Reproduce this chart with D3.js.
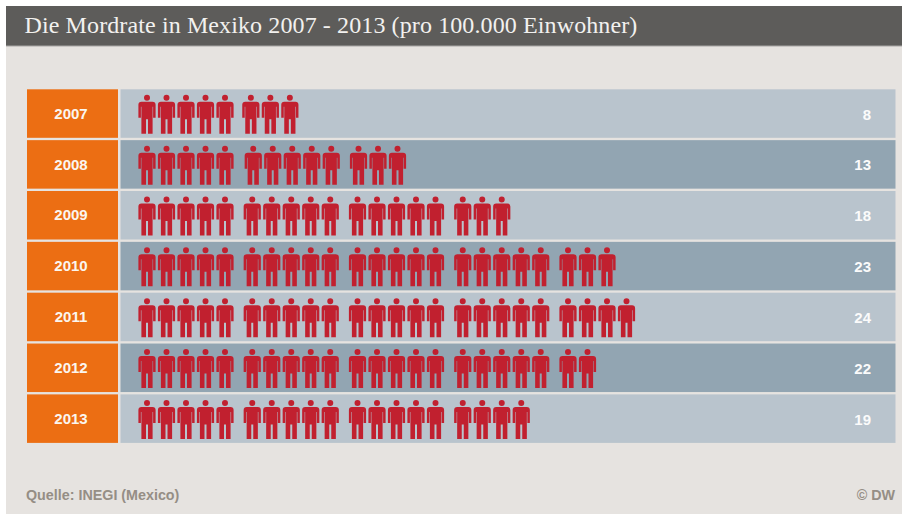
<!DOCTYPE html>
<html><head><meta charset="utf-8">
<script src="https://cdn.jsdelivr.net/npm/d3@7"></script>
<style>html,body{margin:0;padding:0;background:#fff}svg{display:block}</style>
</head><body>
<svg id="chart" width="902" height="514"></svg>
<script>
const titleText = "Die Mordrate in Mexiko 2007 - 2013 (pro 100.000 Einwohner)";
const sourceText = "Quelle: INEGI (Mexico)";
const creditText = "© DW";
const years = [2007, 2008, 2009, 2010, 2011, 2012, 2013];
const rates = [8, 13, 18, 23, 24, 22, 19];

const svg = d3.select("#chart");
const perGroup = 5;

// panel and header
svg.append("rect").attr("x", 6).attr("y", 6).attr("width", 896).attr("height", 508).attr("fill", "#e6e3e0");
svg.append("rect").attr("x", 6).attr("y", 6).attr("width", 896).attr("height", 40).attr("fill", "#5d5c5a");
svg.append("rect").attr("x", 6).attr("y", 45.5).attr("width", 896).attr("height", 1).attr("fill", "#a8a6a3");
svg.append("text").attr("x", 24.5).attr("y", 33).attr("fill", "#f2f1ef")
  .attr("font-family", "'Liberation Serif', serif").attr("font-size", 24)
  .attr("letter-spacing", 0.11).text(titleText);

const y = d3.scaleBand().domain(years).range([89.3, 442.9]).paddingInner(0.046).paddingOuter(0);

const rows = svg.append("g").selectAll("g").data(years).join("g")
  .attr("transform", d => `translate(0,${y(d)})`);

rows.append("rect").attr("x", 27).attr("width", 91).attr("height", y.bandwidth()).attr("fill", "#ec6e13");
rows.append("rect").attr("x", 120.5).attr("width", 775).attr("height", y.bandwidth())
  .attr("fill", (d, i) => i % 2 ? "#92a5b2" : "#b9c4cd");
rows.append("text").attr("x", 71).attr("y", y.bandwidth() / 2 + 5.2).attr("text-anchor", "middle")
  .attr("fill", "#fbf6ef").attr("font-family", "'Liberation Sans', sans-serif")
  .attr("font-weight", "bold").attr("font-size", 15).text(d => d);
rows.append("text").attr("x", 871).attr("y", y.bandwidth() / 2 + 6).attr("text-anchor", "end")
  .attr("fill", "#fbfbfb").attr("font-family", "'Liberation Sans', sans-serif")
  .attr("font-weight", "bold").attr("font-size", 15).text((d, i) => rates[i]);

// person pictogram, centred on x = 0, top of head at y = 0
const personPath = "M-3,3a3,3 0 1,0 6,0a3,3 0 1,0 -6,0Z" +
  "M-5.5,7H5.5Q8.6,7 8.6,10V23H6.1V12H5.6V39H1V24.5H-1V39H-5.6V12H-6.1V23H-8.6V10Q-8.6,7 -5.5,7Z";

const groupX = d3.scaleLinear().domain([0, 4]).range([147, 568]);
const stepX = d3.scaleLinear().domain([0, 4]).range([0, 78]);
// the two shortest rows sit slightly off the common grid after their first group
const rowShift = { 2007: -1.4, 2008: 1 };

rows.each(function (year, i) {
  d3.select(this).selectAll("path").data(d3.range(rates[i])).join("path")
    .attr("d", personPath).attr("fill", "#c1202f")
    .attr("transform", k => {
      const g = Math.floor(k / perGroup);
      const shift = g > 0 ? (rowShift[year] || 0) : 0;
      return `translate(${groupX(g) + stepX(k % perGroup) + shift},5.5)`;
    });
});

svg.append("text").attr("x", 26).attr("y", 500).attr("fill", "#958e85")
  .attr("font-family", "'Liberation Sans', sans-serif").attr("font-weight", "bold").attr("font-size", 14.3).text(sourceText);
svg.append("text").attr("x", 895).attr("y", 500).attr("text-anchor", "end").attr("fill", "#958e85")
  .attr("font-family", "'Liberation Sans', sans-serif").attr("font-weight", "bold").attr("font-size", 14.3).text(creditText);
</script>
</body></html>
